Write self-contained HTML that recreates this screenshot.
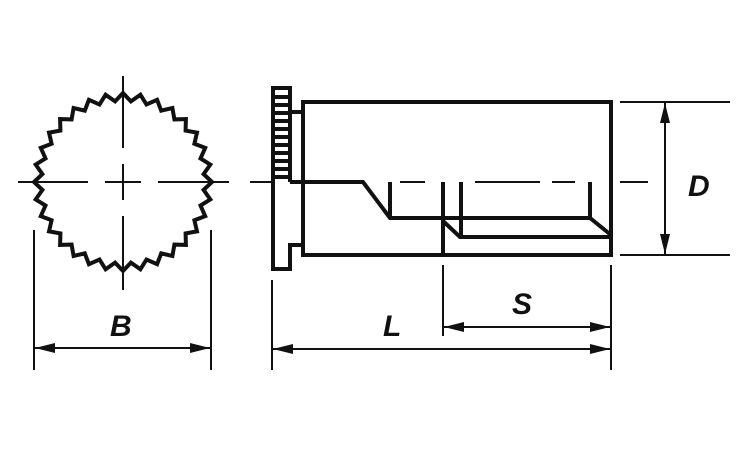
<!DOCTYPE html>
<html><head><meta charset="utf-8"><style>
html,body{margin:0;padding:0;background:#fff;width:750px;height:450px;overflow:hidden}
text{font-family:"Liberation Sans",sans-serif;font-weight:bold;font-style:italic;font-size:30px;fill:#111}
</style></head><body>
<svg width="750" height="450" viewBox="0 0 750 450" xmlns="http://www.w3.org/2000/svg">
<defs>
<marker id="a" viewBox="0 0 20 10" refX="20" refY="5" markerWidth="20" markerHeight="10" markerUnits="userSpaceOnUse" orient="auto-start-reverse"><path d="M0,0 L20,5 L0,10 Z" fill="#111"/></marker>
</defs>
<g stroke="#111" fill="none">
<g stroke-width="2">
<line x1="123" y1="76" x2="123" y2="148"/>
<line x1="123" y1="164" x2="123" y2="200"/>
<line x1="123" y1="216" x2="123" y2="290"/>
<line x1="18" y1="182" x2="88" y2="182"/>
<line x1="105" y1="182" x2="141" y2="182"/>
<line x1="158" y1="182" x2="229" y2="182"/>
</g>
<polygon stroke-width="4" stroke-linejoin="miter" points="212,182 203.6,174.1 210.3,164.6 200.5,158.5 205.2,147.9 194.4,143.8 197,132.6 185.6,130.6 185.9,119.1 174.4,119.4 172.4,108 161.2,110.6 157.1,99.8 146.5,104.5 140.4,94.7 130.9,101.4 123,93 115.1,101.4 105.6,94.7 99.5,104.5 88.9,99.8 84.8,110.6 73.6,108 71.6,119.4 60.1,119.1 60.4,130.6 49,132.6 51.6,143.8 40.8,147.9 45.5,158.5 35.7,164.6 42.4,174.1 34,182 42.4,189.9 35.7,199.4 45.5,205.5 40.8,216.1 51.6,220.2 49,231.4 60.4,233.4 60.1,244.9 71.6,244.6 73.6,256 84.8,253.4 88.9,264.2 99.5,259.5 105.6,269.3 115.1,262.6 123,271 130.9,262.6 140.4,269.3 146.5,259.5 157.1,264.2 161.2,253.4 172.4,256 174.4,244.6 185.9,244.9 185.6,233.4 197,231.4 194.4,220.2 205.2,216.1 200.5,205.5 210.3,199.4 203.6,189.9"/>
<g stroke-width="2">
<line x1="34" y1="230" x2="34" y2="370"/>
<line x1="211" y1="230" x2="211" y2="370"/>
<line x1="35" y1="348" x2="210" y2="348" marker-start="url(#a)" marker-end="url(#a)"/>
</g>
<g stroke-width="2">
<line x1="250" y1="182" x2="275" y2="182"/>
<line x1="400" y1="182" x2="425" y2="182"/>
<line x1="475" y1="182" x2="540" y2="182"/>
<line x1="552" y1="182" x2="575" y2="182"/>
<line x1="620" y1="182" x2="648" y2="182"/>
</g>
<g stroke-width="4" stroke-linejoin="miter">
<path d="M290,182 L290,88 L273,88 L273,269 L290,269 L290,245 L303,245 L303,255"/>
<polyline points="290,112 303,112"/>
<rect x="303" y="102" width="308" height="153"/>
<polyline points="290,182 363,182 390,218 590,218 611,235"/>
<line x1="390" y1="182" x2="390" y2="218"/>
<line x1="590" y1="182" x2="590" y2="218"/>
<line x1="443" y1="182" x2="443" y2="255"/>
<line x1="461" y1="182" x2="461" y2="237"/>
<polyline points="443,221 460,237 611,237"/>
<line x1="303" y1="112" x2="303" y2="182"/>
</g>
<g stroke-width="4">
<line x1="274" y1="97" x2="289" y2="97"/>
<line x1="274" y1="105" x2="289" y2="105"/>
<line x1="274" y1="113" x2="289" y2="113"/>
<line x1="274" y1="121" x2="289" y2="121"/>
<line x1="274" y1="129" x2="289" y2="129"/>
<line x1="274" y1="137" x2="289" y2="137"/>
<line x1="274" y1="145" x2="289" y2="145"/>
<line x1="274" y1="153" x2="289" y2="153"/>
<line x1="274" y1="161" x2="289" y2="161"/>
<line x1="274" y1="169" x2="289" y2="169"/>
<line x1="274" y1="177" x2="289" y2="177"/>
</g>
<g stroke-width="2">
<line x1="620" y1="102" x2="730" y2="102"/>
<line x1="620" y1="255" x2="730" y2="255"/>
<line x1="665" y1="103" x2="665" y2="254" marker-start="url(#a)" marker-end="url(#a)"/>
<line x1="272" y1="280" x2="272" y2="370"/>
<line x1="611" y1="265" x2="611" y2="370"/>
<line x1="443" y1="265" x2="443" y2="336"/>
<line x1="444" y1="327" x2="610" y2="327" marker-start="url(#a)" marker-end="url(#a)"/>
<line x1="273" y1="349" x2="610" y2="349" marker-start="url(#a)" marker-end="url(#a)"/>
</g>
</g>
<text x="110" y="336">B</text>
<text x="383" y="336">L</text>
<text x="512" y="314">S</text>
<text x="688" y="196">D</text>
</svg>
</body></html>
